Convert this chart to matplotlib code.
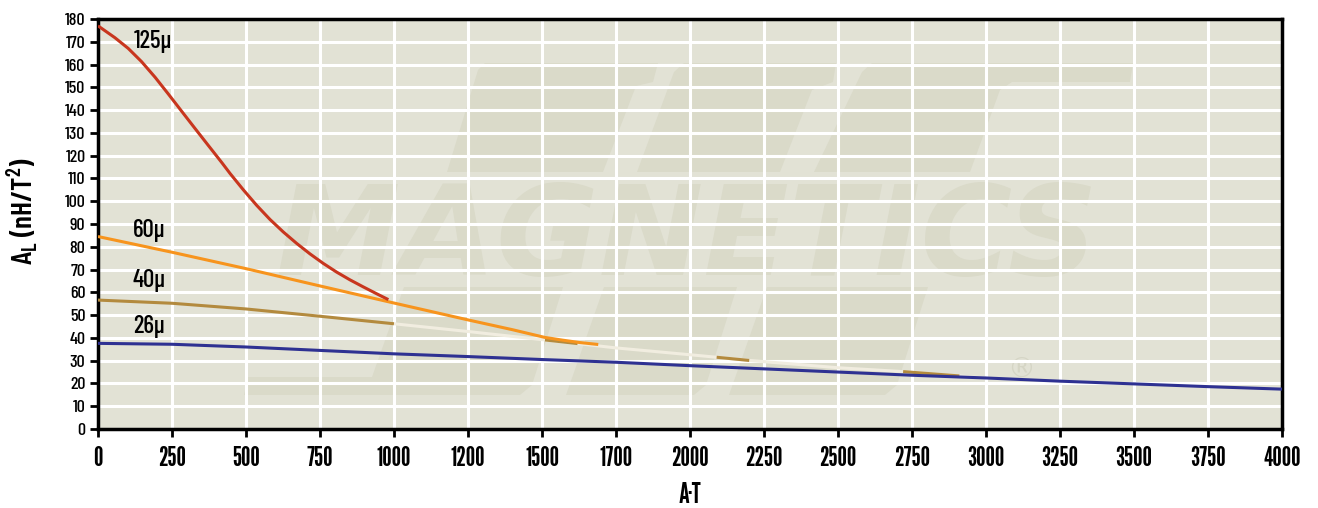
import matplotlib
matplotlib.use("Agg")
import matplotlib.pyplot as plt
from matplotlib.patches import Polygon

# A_L vs. DC bias (A·T) for four permeabilities
x_125 = [0, 57, 102, 147, 193, 238, 282, 328, 372, 418, 446, 491, 536, 581,
         626, 671, 716, 761, 806, 851, 896, 941, 981]
y_125 = [177, 171.8, 167.1, 161.3, 154.4, 147.0, 139.6, 131.9, 124.6, 117.0, 112.2,
         105.0, 98.2, 92.0, 86.5, 81.5, 76.9, 72.7, 68.9, 65.5, 62.4, 59.4, 56.8]

x_60 = [0, 250, 500, 750, 1000, 1250, 1400, 1510, 1570, 1625, 1690]
y_60 = [84.5, 77.6, 70.4, 62.8, 55.3, 47.9, 43.6, 40.2, 39.0, 38.0, 37.1]

x_40 = [0, 250, 500, 750, 1000, 1250, 1510, 1620, 1750, 2000, 2090, 2200, 2500, 2720, 2910, 3000]
y_40 = [56.6, 55.2, 52.7, 49.5, 46.2, 42.8, 39.1, 37.5, 35.6, 32.6, 31.5, 30.1, 26.9, 25.2, 23.3, 22.4]

x_26 = [0, 250, 500, 750, 1000, 1250, 1500, 1750, 2000, 2250, 2500, 2750, 3000, 3250, 3500, 3750, 4000]
y_26 = [37.6, 37.2, 36, 34.5, 33, 31.8, 30.5, 29.3, 27.8, 26.4, 25, 23.6, 22.4, 21.0, 19.8, 18.6, 17.5]

# index ranges of the 40µ curve that stay solid tan beyond 1000 A·T
tan_spans_40 = [(6, 7), (10, 11), (13, 14)]

x_ticks = [0, 250, 500, 750, 1000, 1250, 1500, 1750, 2000, 2250, 2500, 2750, 3000, 3250, 3500, 3750, 4000]
x_tick_labels = ["0", "250", "500", "750", "1000", "1200", "1500", "1700", "2000",
                 "2250", "2500", "2750", "3000", "3250", "3500", "3750", "4000"]
y_ticks = list(range(0, 181, 10))

series_labels = ["125μ", "60μ", "40μ", "26μ"]
label_pos = [(186, 170), (172, 87), (172, 65), (172, 44.8)]

FONT = ["Barlow Condensed", "DejaVu Sans"]
TALL = ["League Gothic", "Oswald", "Barlow Condensed", "DejaVu Sans"]
plt.rcParams["font.family"] = FONT

W, H = 1318, 508
fig = plt.figure(figsize=(W / 100, H / 100), dpi=100)
ax = fig.add_axes([98 / W, 1 - 429 / H, (1282 - 98) / W, (429 - 19) / H])
ax.set_facecolor("#e2e2d5")


def px_poly(pts, color, z):
    """Polygon given in pixel coordinates of the figure."""
    ax.add_patch(Polygon([(px / W, 1 - py / H) for px, py in pts], closed=True,
                         transform=fig.transFigure, facecolor=color, lw=0, zorder=z))


# faint logo watermark behind the grid
wm = "#dadac9"
upper = [
    [(485, 63), (658, 63), (653, 82), (636, 86), (603, 172), (447, 172), (478, 70)],
    [(684, 63), (836, 63), (833, 82), (812, 90), (780, 172), (637, 172), (674, 72)],
    [(872, 63), (1133, 63), (1130, 82), (1012, 82), (1000, 90), (970, 172), (814, 172), (862, 72)],
]
lower = [
    [(404, 287), (563, 287), (532, 385), (520, 395), (244, 395), (248, 377), (372, 377)],
    [(604, 287), (737, 287), (706, 385), (694, 395), (566, 395)],
    [(767, 287), (928, 287), (897, 385), (885, 395), (729, 395)],
]
for shp in upper + lower:
    px_poly(shp, wm, 0.2)
ax.text(1990, 67.6, "MAGNETICS", ha="center", va="baseline", fontsize=90, fontweight="bold",
        fontstyle="italic", color=wm, zorder=0.3, family="DejaVu Sans")
ax.text(3120, 26, "®", ha="center", va="center", fontsize=20, color="#d5d5c5", zorder=0.5,
        family="DejaVu Sans")

ax.set_xlim(0, 4000)
ax.set_ylim(0, 180)
ax.set_xticks(x_ticks)
ax.set_xticklabels(x_tick_labels, family=TALL, fontsize=19)
ax.set_yticks(y_ticks)
ax.set_yticklabels([str(v) for v in y_ticks], fontsize=13, fontweight="medium")
ax.grid(True, color="white", linewidth=2.2, zorder=1)
ax.set_axisbelow(True)

for s in ax.spines.values():
    s.set_linewidth(2.5)
    s.set_color("black")
ax.tick_params(axis="both", direction="out", length=6, width=2, colors="black")
ax.tick_params(axis="x", pad=6)
ax.tick_params(axis="y", pad=3)

lw = 2.2
style = dict(lw=lw, solid_capstyle="butt", solid_joinstyle="round")
ax.plot(x_26, y_26, color="#2e3192", zorder=3.8, **style)
# 40µ: solid to 1000 A·T, then pale with tan segments
ax.plot(x_40[:5], y_40[:5], color="#b38a3e", zorder=3, **style)
ax.plot(x_40[4:], y_40[4:], color="#f1ede0", zorder=3, **style)
for a, b in tan_spans_40:
    ax.plot(x_40[a:b + 1], y_40[a:b + 1], color="#b38a3e", zorder=3.5, **style)
ax.plot(x_60, y_60, color="#f7941d", zorder=4, **style)
ax.plot(x_125, y_125, color="#c8361e", zorder=5, **style)

for txt, (lx, ly) in zip(series_labels, label_pos):
    ax.text(lx, ly, txt, ha="center", va="center", fontsize=18, fontweight="medium",
            color="black", zorder=6)

ax.set_xlabel("A·T", fontsize=20, fontweight="semibold", labelpad=8, family=TALL)
ax.set_ylabel("A$_\\mathregular{L}$ (nH/T$^\\mathregular{2}$)", fontsize=21,
              fontweight="semibold")
ax.yaxis.set_label_coords(-0.049, 0.532)

# red logo fragment at lower left
for x0 in (48, 84, 118):
    px_poly([(x0 + 8, 500), (x0 + 38, 500), (x0 + 33, 508), (x0, 508)], "#e52e2e", 10)

fig.savefig("out.png", dpi=100)
